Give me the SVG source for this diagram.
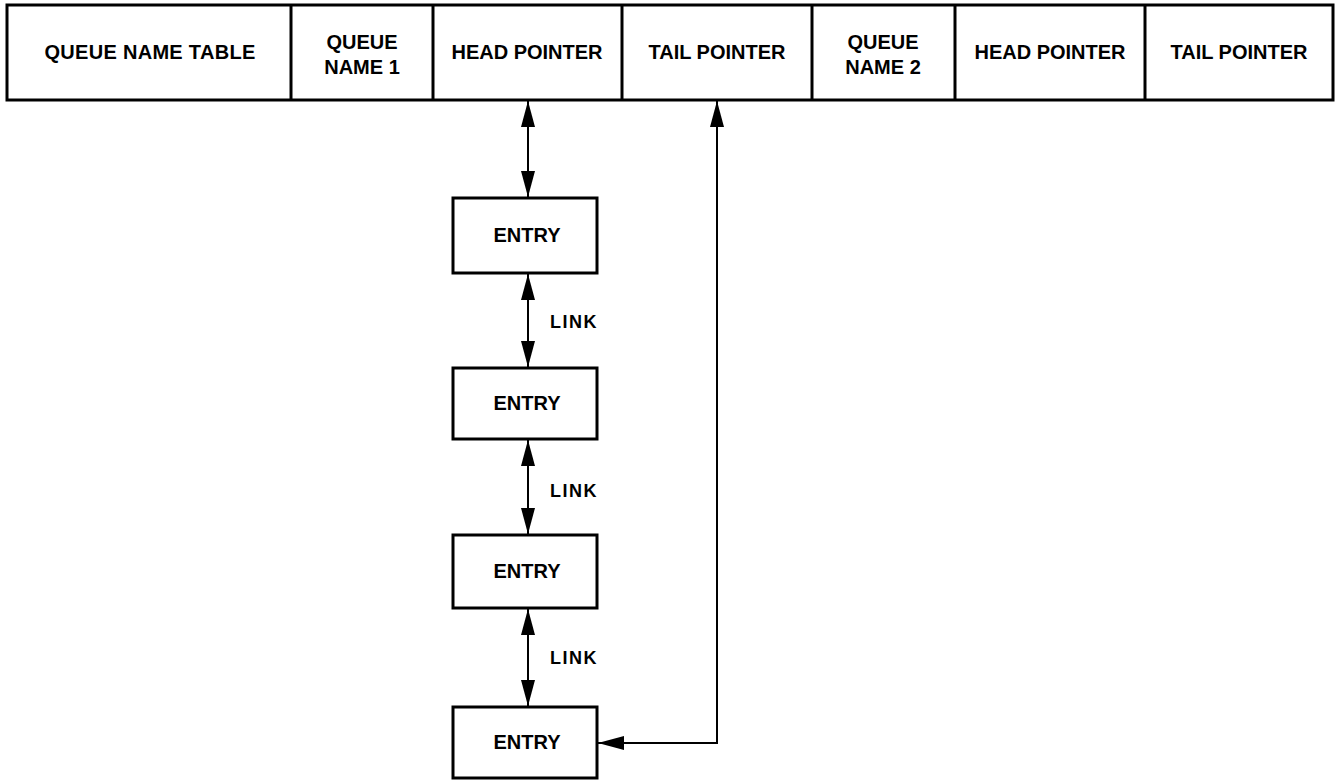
<svg xmlns="http://www.w3.org/2000/svg" width="1343" height="781" viewBox="0 0 1343 781">
<style>
.box{fill:#fff;stroke:#000;stroke-width:3}
.div{stroke:#000;stroke-width:3}
.t{font-family:"Liberation Sans",Arial,sans-serif;font-weight:bold;font-size:20px;text-anchor:middle;fill:#000}
.lk{font-family:"Liberation Sans",Arial,sans-serif;font-weight:bold;font-size:18px;letter-spacing:1.5px;fill:#000}
.c{fill:none;stroke:#000;stroke-width:2}
</style>
<defs>
<marker id="ah" viewBox="0 0 26 14" refX="26" refY="7" markerWidth="26" markerHeight="14" markerUnits="userSpaceOnUse" orient="auto-start-reverse">
<path d="M0,0 L26,7 L0,14 z" fill="#000"/>
</marker>
</defs>
<rect width="1343" height="781" fill="#fff"/>
<g id="table">
<rect class="box" x="7" y="5" width="1326" height="95"/>
<line class="div" x1="291" y1="5" x2="291" y2="100"/>
<line class="div" x1="433" y1="5" x2="433" y2="100"/>
<line class="div" x1="622" y1="5" x2="622" y2="100"/>
<line class="div" x1="812" y1="5" x2="812" y2="100"/>
<line class="div" x1="955" y1="5" x2="955" y2="100"/>
<line class="div" x1="1145" y1="5" x2="1145" y2="100"/>
<g id="cell-qnt"><text class="t" x="150" y="59" letter-spacing="0.3">QUEUE NAME TABLE</text></g>
<g id="cell-qn1"><text class="t" x="362" y="49">QUEUE</text><text class="t" x="362" y="74">NAME 1</text></g>
<g id="cell-hp1"><text class="t" x="527" y="59">HEAD POINTER</text></g>
<g id="cell-tp1"><text class="t" x="717" y="59">TAIL POINTER</text></g>
<g id="cell-qn2"><text class="t" x="883" y="49">QUEUE</text><text class="t" x="883" y="74">NAME 2</text></g>
<g id="cell-hp2"><text class="t" x="1050" y="59">HEAD POINTER</text></g>
<g id="cell-tp2"><text class="t" x="1239" y="59">TAIL POINTER</text></g>
</g>
<g id="entry1"><rect class="box" x="453" y="198" width="144" height="75"/><text class="t" x="527" y="242">ENTRY</text></g>
<g id="entry2"><rect class="box" x="453" y="368" width="144" height="71"/><text class="t" x="527" y="410">ENTRY</text></g>
<g id="entry3"><rect class="box" x="453" y="535" width="144" height="73"/><text class="t" x="527" y="578">ENTRY</text></g>
<g id="entry4"><rect class="box" x="453" y="707" width="144" height="71"/><text class="t" x="527" y="749">ENTRY</text></g>
<g id="connectors">
<line class="c" x1="528" y1="101" x2="528" y2="197" marker-start="url(#ah)" marker-end="url(#ah)"/>
<line class="c" x1="528" y1="274" x2="528" y2="367" marker-start="url(#ah)" marker-end="url(#ah)"/>
<line class="c" x1="528" y1="440" x2="528" y2="534" marker-start="url(#ah)" marker-end="url(#ah)"/>
<line class="c" x1="528" y1="609" x2="528" y2="706" marker-start="url(#ah)" marker-end="url(#ah)"/>
<polyline class="c" points="598,743 717,743 717,101" marker-start="url(#ah)" marker-end="url(#ah)"/>
<text class="lk" x="550" y="328">LINK</text>
<text class="lk" x="550" y="497">LINK</text>
<text class="lk" x="550" y="664">LINK</text>
</g>
</svg>
